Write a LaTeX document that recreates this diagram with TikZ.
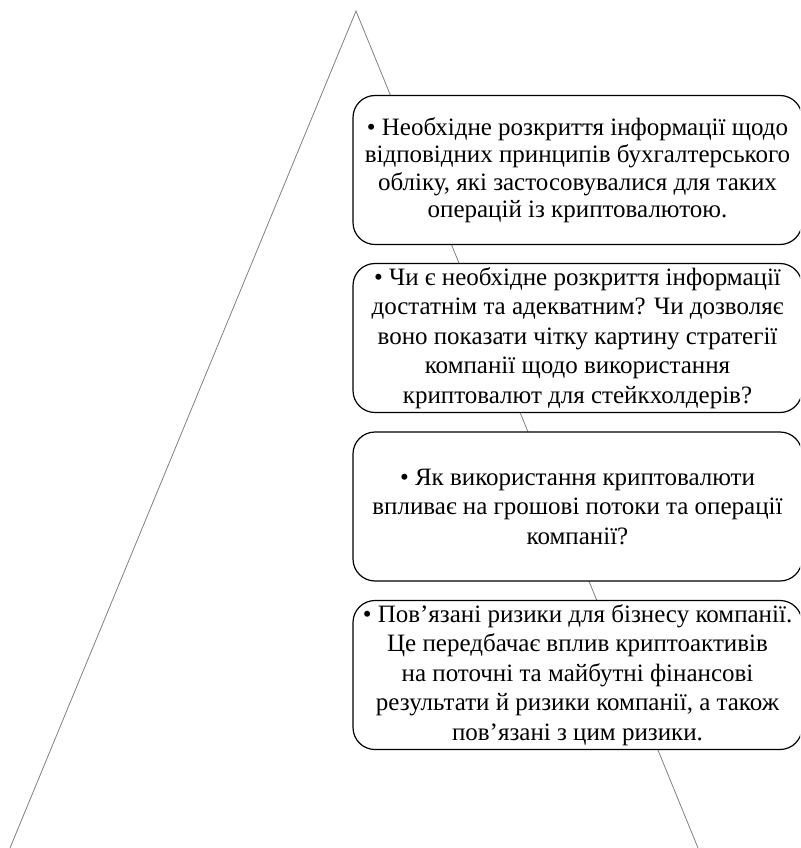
\documentclass[tikz,border=0pt]{standalone}
\usepackage{fontspec}
\setmainfont{Liberation Serif}
\newfontfamily\tnr{Liberation Serif}
\begin{document}
\begin{tikzpicture}[x=1pt,y=-1pt,
  infobox/.style={draw=black,line width=1.2pt,fill=white,rounded corners=22pt,
    minimum width=449pt,minimum height=149pt,align=center,inner sep=0pt,
    font=\tnr\fontsize{25}{29.5}\selectfont},
  side/.style={draw=black!50,line width=0.8pt}]
\useasboundingbox (0,0) rectangle (800,848);
\clip (0,0) rectangle (800,848);
\coordinate (apex) at (356,11);
\coordinate (bl) at (10,848);
\coordinate (br) at (698,848);
\draw[side] (bl) -- (apex) -- (br);
\node[infobox,font=\tnr\fontsize{25}{27.5}\selectfont] (b1) at (577.5,170) {• Необхідне розкриття інформації щодо\\відповідних принципів бухгалтерського\\обліку, які застосовувалися для таких\\операцій із криптовалютою.};
\node[infobox] (b2) at (577.5,338) {• Чи є необхідне розкриття інформації\\достатнім та адекватним? Чи дозволяє\\воно показати чітку картину стратегії\\компанії щодо використання\\криптовалют для стейкхолдерів?};
\node[infobox] (b3) at (577.5,506.5) {• Як використання криптовалюти\\впливає на грошові потоки та операції\\компанії?};
\node[infobox] (b4) at (577.5,675) {• Пов’язані ризики для бізнесу компанії.\\Це передбачає вплив криптоактивів\\на поточні та майбутні фінансові\\результати й ризики компанії, а також\\пов’язані з цим ризики.};
\end{tikzpicture}
\end{document}
